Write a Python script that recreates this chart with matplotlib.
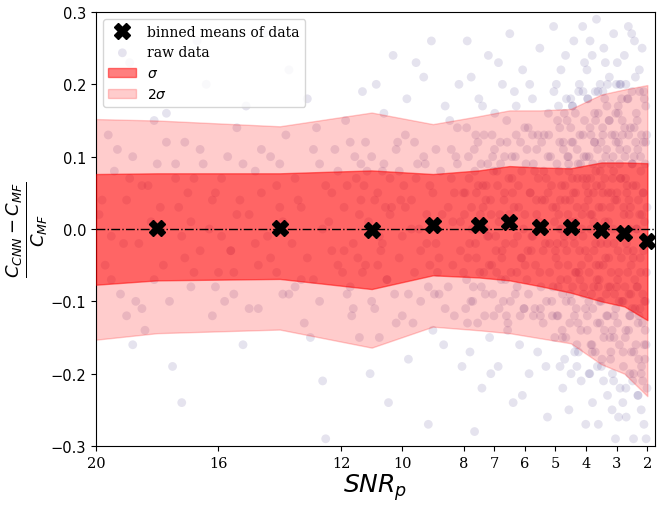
import numpy as np
import matplotlib.pyplot as plt

plt.rcParams['font.family'] = 'serif'

# binned means of (C_CNN - C_MF) / C_MF
mean_snr = [18.0, 14.0, 11.0, 9.0, 7.5, 6.5, 5.5, 4.5, 3.5, 2.75, 2.0]
mean_err = [0.002, 0.002, -0.001, 0.0055, 0.0055, 0.010, 0.003, 0.003, -0.0015, -0.006, -0.0165]

# sigma bands
band_snr = [20.0, 18.0, 14.0, 11.0, 9.0, 7.5, 6.5, 5.5, 4.5, 3.5, 2.75, 2.0]
up1 = [0.076, 0.077, 0.077, 0.081, 0.076, 0.081, 0.087, 0.085, 0.084, 0.092, 0.092, 0.091]
lo1 = [-0.077, -0.071, -0.069, -0.083, -0.064, -0.067, -0.071, -0.079, -0.088, -0.100, -0.107, -0.126]
up2 = [0.152, 0.150, 0.142, 0.161, 0.145, 0.156, 0.164, 0.164, 0.166, 0.186, 0.193, 0.199]
lo2 = [-0.153, -0.144, -0.139, -0.164, -0.135, -0.140, -0.144, -0.151, -0.158, -0.187, -0.200, -0.231]

# raw data (snr, error), read off roughly
raw_hi = [
    (19.8, 0.04), (19.5, -0.07), (19.3, 0.11), (19.1, -0.02), (18.9, 0.23), (18.7, -0.10), (18.5, 0.06), (18.4, -0.14),
    (18.2, 0.01), (18.0, 0.09), (17.8, -0.05), (17.7, 0.16), (17.5, -0.19), (17.3, 0.03), (17.1, 0.12), (16.9, -0.08),
    (16.8, 0.07), (16.6, -0.03), (16.4, 0.20), (16.2, -0.12), (16.1, 0.05), (15.9, -0.01), (15.7, 0.10), (15.5, -0.06),
    (15.4, 0.14), (15.2, -0.16), (15.0, 0.02), (14.8, 0.08), (14.7, -0.11), (14.5, 0.27), (14.3, -0.04), (14.1, 0.06),
    (13.9, -0.09), (13.8, 0.13), (13.6, -0.02), (13.4, 0.04), (13.2, -0.13), (13.1, 0.18), (12.9, -0.07), (12.7, 0.09),
    (12.6, -0.21), (12.4, 0.01), (12.2, 0.11), (12.1, -0.05), (19.6, 0.13), (18.8, -0.16), (17.9, 0.00), (17.2, -0.24),
    (16.5, 0.09), (15.8, -0.10), (15.1, 0.17), (14.4, -0.01), (13.7, 0.22), (13.0, -0.15), (12.3, 0.05), (19.0, -0.12),
    (18.1, 0.15), (16.7, 0.26), (15.6, -0.03), (14.6, 0.11), (13.5, -0.08), (12.5, -0.29), (17.4, 0.07), (16.0, -0.06),
    (14.0, 0.03), (12.8, 0.14),
]
raw_mid = [
    (11.9, 0.03), (11.8, -0.09), (11.7, 0.12), (11.6, -0.02), (11.5, 0.07), (11.4, -0.15), (11.3, 0.19), (11.2, -0.05),
    (11.1, 0.01), (11.0, 0.10), (10.9, -0.11), (10.8, 0.05), (10.7, -0.03), (10.6, 0.16), (10.5, -0.07), (10.4, 0.02),
    (10.3, 0.24), (10.2, -0.13), (10.1, 0.08), (10.0, -0.01), (9.9, 0.13), (9.8, -0.18), (9.7, 0.04), (9.6, -0.06),
    (9.5, 0.09), (9.4, -0.10), (9.3, 0.21), (9.2, -0.02), (9.1, 0.06), (9.0, -0.14), (8.9, 0.11), (8.8, -0.04),
    (8.7, 0.02), (8.6, 0.17), (8.5, -0.08), (8.4, 0.07), (8.3, -0.12), (8.2, 0.14), (8.1, -0.03), (8.0, 0.05),
    (11.85, 0.15), (11.45, -0.04), (11.05, -0.20), (10.65, 0.08), (10.25, -0.09), (9.85, 0.18), (9.45, 0.00), (9.05, 0.26),
    (8.65, -0.16), (8.25, 0.10), (11.65, -0.12), (11.25, 0.06), (10.85, 0.20), (10.45, -0.24), (10.05, 0.04), (9.65, -0.13),
    (9.25, 0.09), (8.85, -0.06), (8.45, 0.15), (8.05, -0.19), (11.95, -0.06), (11.35, 0.09), (10.75, -0.15), (10.15, 0.12),
    (9.55, 0.23), (8.95, -0.09), (8.35, 0.01), (10.55, 0.03), (9.15, -0.27), (8.15, 0.20),
]
raw_low = [
    (7.97, 0.02), (7.93, -0.11), (7.9, 0.14), (7.86, -0.04), (7.82, 0.07), (7.79, -0.17), (7.75, 0.21), (7.72, 0.00),
    (7.68, -0.08), (7.65, 0.11), (7.61, -0.02), (7.58, 0.05), (7.54, -0.13), (7.5, 0.18), (7.47, -0.06), (7.43, 0.09),
    (7.4, -0.22), (7.36, 0.03), (7.33, 0.13), (7.29, -0.09), (7.26, 0.06), (7.22, -0.01), (7.19, 0.24), (7.15, -0.15),
    (7.12, 0.04), (7.08, -0.05), (7.05, 0.10), (7.01, -0.12), (6.98, 0.16), (6.94, -0.03), (6.91, 0.08), (6.87, -0.19),
    (6.84, 0.01), (6.8, 0.12), (6.77, -0.07), (6.73, 0.20), (6.7, -0.10), (6.66, 0.05), (6.63, -0.02), (6.59, 0.15),
    (6.56, -0.14), (6.52, 0.07), (6.49, 0.27), (6.45, -0.06), (6.42, 0.10), (6.38, -0.24), (6.35, 0.03), (6.31, -0.09),
    (6.28, 0.17), (6.24, -0.01), (6.21, 0.06), (6.17, -0.16), (6.14, 0.12), (6.1, -0.04), (6.07, 0.22), (6.03, -0.11),
    (6.0, 0.02), (5.96, 0.09), (5.93, -0.07), (5.89, 0.14), (5.86, -0.20), (5.82, 0.05), (5.79, -0.03), (5.75, 0.18),
    (5.72, -0.12), (5.68, 0.08), (5.65, -0.05), (5.61, 0.11), (5.58, -0.17), (5.54, 0.01), (5.51, 0.25), (5.47, -0.08),
    (5.44, 0.04), (5.4, -0.13), (5.37, 0.13), (5.33, -0.02), (5.3, 0.07), (5.26, -0.26), (5.23, 0.16), (5.19, -0.06),
    (5.16, 0.10), (5.12, -0.10), (5.09, 0.03), (5.05, 0.19), (5.02, -0.15),
    (7.88, 0.26), (7.64, -0.28), (7.38, 0.17), (7.11, -0.20), (6.86, 0.23), (6.6, -0.12), (6.34, 0.19), (6.08, -0.23),
    (5.84, 0.20), (5.57, 0.13), (5.31, -0.19), (5.06, 0.28), (7.76, -0.10), (7.52, 0.06), (7.27, 0.00), (7.02, 0.08),
    (6.75, -0.04), (6.5, 0.02), (6.25, -0.08), (6.0, 0.14), (5.74, -0.01), (5.49, -0.11), (5.24, 0.05), (5.0, -0.03),
]
raw_4to5 = [
    (4.98, 0.03), (4.95, -0.12), (4.93, 0.15), (4.9, -0.05), (4.88, 0.08), (4.85, -0.19), (4.82, 0.22), (4.8, 0.00),
    (4.77, -0.09), (4.74, 0.12), (4.72, -0.02), (4.69, 0.06), (4.66, -0.15), (4.64, 0.18), (4.61, -0.07), (4.58, 0.10),
    (4.56, -0.25), (4.53, 0.04), (4.5, 0.14), (4.48, -0.10), (4.45, 0.07), (4.42, -0.01), (4.4, 0.26), (4.37, -0.17),
    (4.34, 0.05), (4.32, -0.06), (4.29, 0.11), (4.26, -0.13), (4.24, 0.19), (4.21, -0.03), (4.18, 0.09), (4.16, -0.21),
    (4.13, 0.02), (4.1, 0.13), (4.08, -0.08), (4.05, 0.23), (4.02, -0.11), (4.0, 0.06),
    (4.97, 0.20), (4.91, -0.08), (4.84, 0.04), (4.78, -0.14), (4.71, 0.16), (4.63, -0.03), (4.57, 0.09), (4.49, -0.20),
    (4.43, 0.12), (4.36, 0.01), (4.3, -0.16), (4.22, 0.20), (4.15, -0.05), (4.07, 0.10), (4.01, -0.27),
    (4.94, -0.02), (4.86, 0.12), (4.76, -0.22), (4.67, 0.24), (4.59, 0.02), (4.52, -0.09), (4.44, 0.17), (4.38, -0.12),
    (4.28, 0.07), (4.2, -0.07), (4.11, 0.28), (4.04, 0.03),
]
raw_3to4 = [
    (3.98, 0.07), (3.96, -0.14), (3.94, 0.18), (3.92, -0.04), (3.9, 0.10), (3.88, -0.20), (3.86, 0.02), (3.84, 0.13),
    (3.82, -0.09), (3.8, 0.24), (3.78, -0.11), (3.76, 0.05), (3.74, -0.03), (3.72, 0.16), (3.7, -0.17), (3.68, 0.08),
    (3.66, 0.29), (3.64, -0.07), (3.62, 0.11), (3.6, -0.27), (3.58, 0.03), (3.56, -0.10), (3.54, 0.20), (3.52, -0.02),
    (3.5, 0.06), (3.48, -0.18), (3.46, 0.14), (3.44, -0.05), (3.42, 0.25), (3.4, -0.14), (3.38, 0.01), (3.36, 0.10),
    (3.34, -0.09), (3.32, 0.17), (3.3, -0.23), (3.28, 0.05), (3.26, -0.04), (3.24, 0.21), (3.22, -0.15), (3.2, 0.09),
    (3.18, -0.06), (3.16, 0.13), (3.14, -0.20), (3.12, 0.00), (3.1, 0.27), (3.08, -0.12), (3.06, 0.04), (3.04, -0.29),
    (3.02, 0.12), (3.0, -0.08),
    (3.97, 0.22), (3.91, -0.10), (3.85, 0.00), (3.79, -0.24), (3.73, 0.12), (3.67, -0.05), (3.61, 0.19), (3.55, -0.13),
    (3.49, 0.09), (3.43, -0.21), (3.37, 0.23), (3.31, -0.02), (3.25, 0.15), (3.19, -0.17), (3.13, 0.07), (3.07, -0.09),
    (3.01, 0.20), (3.93, 0.04), (3.81, -0.16), (3.69, 0.15), (3.57, -0.07), (3.45, 0.05), (3.33, -0.12), (3.21, 0.03),
    (3.09, -0.15), (3.03, 0.16), (3.87, 0.26), (3.63, -0.19), (3.39, 0.18), (3.15, -0.25), (3.75, 0.01), (3.51, 0.12),
    (3.27, -0.08),
]
raw_2to3 = [
    (2.99, 0.05), (2.97, -0.13), (2.95, 0.16), (2.93, -0.06), (2.91, 0.09), (2.89, -0.22), (2.87, 0.20), (2.85, -0.01),
    (2.83, -0.10), (2.81, 0.13), (2.79, -0.17), (2.77, 0.03), (2.75, 0.24), (2.73, -0.08), (2.71, 0.07), (2.69, -0.26),
    (2.67, 0.11), (2.65, -0.03), (2.63, 0.18), (2.61, -0.14), (2.59, 0.02), (2.57, -0.20), (2.55, 0.14), (2.53, -0.05),
    (2.51, 0.27), (2.49, -0.11), (2.47, 0.06), (2.45, -0.29), (2.43, 0.10), (2.41, -0.07), (2.39, 0.21), (2.37, -0.16),
    (2.35, 0.00), (2.33, 0.15), (2.31, -0.23), (2.29, 0.04), (2.27, -0.12), (2.25, 0.19), (2.23, -0.04), (2.21, 0.08),
    (2.19, -0.19), (2.17, 0.25), (2.15, -0.09), (2.13, 0.12), (2.11, -0.27), (2.09, 0.01), (2.07, -0.14), (2.05, 0.17),
    (2.03, -0.06), (2.01, -0.22),
    (2.98, 0.23), (2.92, -0.10), (2.86, 0.07), (2.8, -0.24), (2.74, 0.14), (2.68, -0.02), (2.62, 0.28), (2.56, -0.12),
    (2.5, 0.09), (2.44, -0.17), (2.38, 0.12), (2.32, -0.08), (2.26, 0.22), (2.2, -0.25), (2.14, 0.05), (2.08, -0.18),
    (2.02, 0.13), (2.96, -0.03), (2.84, 0.18), (2.72, -0.15), (2.6, 0.04), (2.48, -0.21), (2.36, 0.16), (2.24, -0.11),
    (2.12, 0.19), (2.04, -0.29), (2.9, 0.11), (2.78, -0.19), (2.66, 0.06), (2.54, -0.09), (2.42, 0.26), (2.3, -0.13),
    (2.18, 0.02), (2.06, -0.10), (2.94, -0.26), (2.7, 0.20), (2.46, -0.04), (2.22, 0.10), (2.1, -0.16), (2.58, 0.00),
]
# points lying inside the bands
core_hi = [
    (19.9, 0.02), (19.7, -0.05), (19.4, 0.08), (19.2, -0.09), (19.0, 0.04), (18.8, 0.10), (18.6, -0.02), (18.3, 0.06),
    (18.1, -0.07), (17.9, 0.03), (17.6, -0.10), (17.4, 0.09), (17.2, -0.01), (17.0, 0.05), (16.8, -0.06), (16.6, 0.11),
    (16.3, 0.00), (16.1, -0.08), (15.9, 0.07), (15.6, -0.03), (15.4, 0.02), (15.2, 0.09), (15.0, -0.11), (14.8, -0.02),
    (14.6, 0.05), (14.3, 0.10), (14.1, -0.06), (13.9, 0.01), (13.7, -0.09), (13.5, 0.07), (13.3, 0.03), (13.1, -0.04),
    (12.9, 0.11), (12.7, -0.10), (12.5, 0.06), (12.3, -0.03), (12.1, 0.08), (19.5, -0.01), (18.5, -0.11), (17.7, 0.12),
    (16.9, 0.01), (16.2, 0.04), (15.5, -0.09), (14.7, -0.05), (14.0, 0.09), (13.3, -0.07), (12.6, 0.00), (18.9, 0.07),
    (17.1, -0.04), (15.3, 0.04),
]
core_mid = [
    (11.9, -0.03), (11.8, 0.06), (11.7, -0.08), (11.55, 0.10), (11.4, 0.02), (11.3, -0.06), (11.15, 0.08), (11.0, -0.10),
    (10.9, 0.04), (10.75, -0.01), (10.6, 0.09), (10.5, -0.07), (10.35, 0.03), (10.2, 0.11), (10.1, -0.04), (9.95, 0.06),
    (9.8, -0.09), (9.7, 0.00), (9.55, 0.07), (9.4, -0.03), (9.3, 0.10), (9.15, -0.08), (9.0, 0.05), (8.9, -0.02),
    (8.75, 0.08), (8.6, -0.11), (8.5, 0.03), (8.35, -0.05), (8.2, 0.09), (8.1, 0.01), (11.6, -0.11), (11.2, 0.12),
    (10.8, -0.05), (10.4, 0.07), (10.0, -0.12), (9.6, 0.12), (9.2, 0.02), (8.8, -0.09), (8.4, 0.11), (8.0, -0.06),
    (11.35, 0.04), (10.65, -0.02), (9.9, 0.03), (9.1, -0.05), (8.3, 0.05),
]
core_low = [
    (7.95, 0.05), (7.9, -0.07), (7.84, 0.10), (7.8, -0.02), (7.74, 0.03), (7.7, -0.10), (7.63, 0.08), (7.58, -0.04),
    (7.53, 0.12), (7.48, 0.00), (7.42, -0.08), (7.37, 0.06), (7.31, -0.12), (7.27, 0.04), (7.21, 0.09), (7.16, -0.05),
    (7.1, 0.02), (7.05, -0.09), (6.99, 0.11), (6.95, -0.01), (6.89, 0.06), (6.84, -0.11), (6.79, 0.09), (6.74, -0.03),
    (6.68, 0.04), (6.63, -0.07), (6.58, 0.12), (6.53, 0.01), (6.47, -0.10), (6.42, 0.07), (6.36, -0.02), (6.31, 0.10),
    (6.26, -0.06), (6.2, 0.03), (6.15, -0.12), (6.1, 0.08), (6.04, 0.00), (5.99, -0.05), (5.93, 0.11), (5.88, -0.09),
    (5.83, 0.05), (5.77, -0.01), (5.72, 0.09), (5.67, -0.11), (5.61, 0.02), (5.56, 0.07), (5.51, -0.06), (5.45, 0.12),
    (5.4, -0.03), (5.35, 0.04), (5.29, -0.10), (5.24, 0.10), (5.19, -0.02), (5.13, 0.06), (5.08, -0.08), (5.03, 0.01),
    (7.87, -0.13), (7.6, 0.13), (7.34, -0.06), (7.07, 0.13), (6.81, 0.02), (6.55, -0.13), (6.28, 0.13), (6.02, -0.11),
    (5.75, 0.13), (5.49, -0.12), (5.22, 0.13), (7.45, 0.02), (6.92, -0.06), (6.4, 0.05), (5.9, -0.03), (5.38, 0.08),
    (7.18, -0.01), (6.66, 0.10), (6.12, -0.04), (5.62, 0.04), (5.1, -0.12),
]
core_2to5 = [
    (4.98, -0.04), (4.95, 0.09), (4.92, -0.12), (4.89, 0.02), (4.86, 0.14), (4.83, -0.07), (4.8, 0.06), (4.77, -0.15),
    (4.74, 0.11), (4.71, -0.01), (4.68, 0.04), (4.65, -0.10), (4.62, 0.15), (4.59, -0.05), (4.56, 0.08), (4.53, -0.13),
    (4.5, 0.01), (4.47, 0.12), (4.44, -0.08), (4.41, 0.05), (4.38, -0.02), (4.35, 0.16), (4.32, -0.11), (4.29, 0.03),
    (4.26, 0.09), (4.23, -0.06), (4.2, 0.13), (4.17, -0.14), (4.14, 0.00), (4.11, 0.07), (4.08, -0.09), (4.05, 0.15),
    (4.02, -0.03), (3.99, 0.10), (3.96, -0.12), (3.93, 0.05), (3.9, -0.06), (3.87, 0.14), (3.84, -0.16), (3.81, 0.02),
    (3.78, 0.09), (3.75, -0.08), (3.72, 0.12), (3.69, -0.02), (3.66, 0.06), (3.63, -0.13), (3.6, 0.16), (3.57, -0.05),
    (3.54, 0.08), (3.51, -0.10), (3.48, 0.03), (3.45, 0.13), (3.42, -0.15), (3.39, 0.07), (3.36, -0.04), (3.33, 0.11),
    (3.3, -0.12), (3.27, 0.01), (3.24, 0.15), (3.21, -0.08), (3.18, 0.05), (3.15, -0.14), (3.12, 0.10), (3.09, -0.02),
    (3.06, 0.13), (3.03, -0.11), (3.0, 0.04), (2.97, -0.07), (2.94, 0.12), (2.91, -0.16), (2.88, 0.07), (2.85, -0.04),
    (2.82, 0.15), (2.79, -0.10), (2.76, 0.02), (2.73, 0.10), (2.7, -0.14), (2.67, 0.05), (2.64, -0.06), (2.61, 0.13),
    (2.58, -0.12), (2.55, 0.03), (2.52, -0.17), (2.49, 0.09), (2.46, -0.03), (2.43, 0.14), (2.4, -0.11), (2.37, 0.06),
    (2.34, -0.08), (2.31, 0.11), (2.28, -0.18), (2.25, 0.02), (2.22, -0.06), (2.19, 0.13), (2.16, -0.13), (2.13, 0.05),
    (2.1, -0.10), (2.07, 0.09), (2.04, -0.16), (2.01, 0.03),
    (4.9, 0.17), (4.7, -0.18), (4.5, 0.18), (4.3, -0.19), (4.1, 0.19), (3.9, -0.20), (3.7, 0.19), (3.5, -0.19),
    (3.3, 0.20), (3.1, -0.21), (2.9, 0.20), (2.7, -0.22), (2.5, 0.19), (2.3, -0.23), (2.1, 0.18),
    (4.85, 0.00), (4.6, 0.10), (4.35, -0.06), (4.1, -0.01), (3.85, 0.07), (3.6, -0.08), (3.35, 0.00), (3.1, 0.08),
    (2.85, -0.01), (2.6, -0.09), (2.35, 0.00), (2.12, -0.03), (4.45, 0.17), (3.95, 0.18), (3.45, 0.19), (2.95, 0.17),
    (2.45, -0.20), (2.2, -0.20), (3.2, -0.18), (3.8, -0.17), (4.25, -0.17), (2.65, 0.18), (2.05, 0.12), (2.15, -0.21),
]

xticks = [20, 16, 12, 10, 8, 7, 6, 5, 4, 3, 2]

raw = np.array(raw_hi + raw_mid + raw_low + raw_4to5 + raw_3to4 + raw_2to3
               + core_hi + core_mid + core_low + core_2to5)

fig = plt.figure(figsize=(6.61, 5.10), dpi=100)
ax = fig.add_axes([0.1452, 0.1235, 0.8457, 0.851])

pts = ax.scatter(raw[:, 0], raw[:, 1], s=40, color='#2e1a78', alpha=0.12,
                 edgecolors='none', label='raw data', zorder=1)
f2 = ax.fill_between(band_snr, lo2, up2, color='red', alpha=0.2, label=r'$2\sigma$', zorder=2)
f1 = ax.fill_between(band_snr, lo1, up1, color='red', alpha=0.5, label=r'$\sigma$', zorder=3)
ax.axhline(0, color='k', ls='-.', lw=1, zorder=4)
mk, = ax.plot(mean_snr, mean_err, 'X', color='k', ms=11, ls='none',
              label='binned means of data', zorder=5)

ax.set_xlim(20, 1.75)
ax.set_ylim(-0.3, 0.3)
ax.set_xticks(xticks)
ax.set_xticklabels([str(t) for t in xticks], fontsize=10.5, family='DejaVu Serif')
ax.set_yticks([-0.3, -0.2, -0.1, 0.0, 0.1, 0.2, 0.3])
ax.set_yticklabels(['−0.3', '−0.2', '−0.1', '0.0', '0.1', '0.2', '0.3'], fontsize=10.5,
                   family='DejaVu Sans')

ax.set_xlabel(r'$SNR_p$', fontsize=18, labelpad=1)
ax.set_ylabel(r'$\frac{C_{CNN} - C_{MF}}{C_{MF}}$', fontsize=18.5)
ax.yaxis.set_label_coords(-0.083, 0.5)

ax.legend(handles=[mk, pts, f1, f2], loc='upper left', fontsize=10)

fig.savefig('out.png', dpi=100)
